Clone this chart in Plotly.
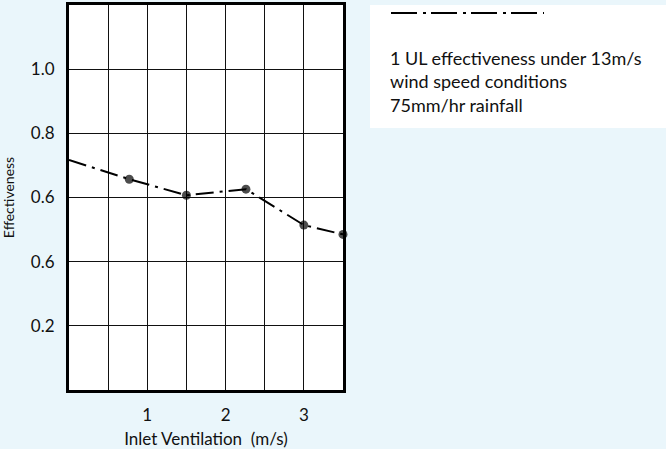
import plotly.graph_objects as go

# data
inlet_velocity = [0.0, 0.77, 1.5, 2.26, 3.0, 3.5]
effectiveness = [0.717, 0.657, 0.607, 0.626, 0.514, 0.485]
marker_sizes = [0, 9, 9, 9, 9, 9]

x_tick_vals = [1, 2, 3]
x_tick_text = ["1", "2", "3"]
y_tick_vals = [0.2, 0.4, 0.6, 0.8, 1.0]
y_tick_text = ["0.2", "0.6", "0.6", "0.8", "1.0"]

legend_lines = ["1 UL effectiveness under 13m/s", "wind speed conditions", "75mm/hr rainfall"]

FONT = "Gill Sans, Gill Sans MT, Lato, sans-serif"
BG = "#eaf6fb"
DASH = "18px,6px,3px,6px"

fig = go.Figure()
fig.add_trace(go.Scatter(
    x=inlet_velocity, y=effectiveness,
    mode="lines+markers",
    line=dict(color="black", width=2, dash=DASH),
    marker=dict(color="black", size=marker_sizes, line=dict(width=0)),
    showlegend=False, cliponaxis=False,
))

W, H = 666, 449
L, R, T, B = 69, 323, 5, 59
pw, ph = W - L - R, H - T - B

def px_x(p):
    return (p - L) / pw

def px_y(p):
    return (H - B - p) / ph

fig.add_shape(type="rect", xref="paper", yref="paper",
              x0=px_x(370), x1=px_x(670), y0=px_y(128), y1=px_y(5),
              fillcolor="white", line=dict(width=0), layer="below")
fig.add_shape(type="line", xref="paper", yref="paper",
              x0=px_x(391), x1=px_x(544), y0=px_y(13), y1=px_y(13),
              line=dict(color="black", width=2, dash="26px,6px,3px,5px"))
fig.add_annotation(xref="paper", yref="paper", x=px_x(388), y=px_y(45),
                   xanchor="left", yanchor="top", align="left", showarrow=False,
                   text="<br>".join(legend_lines),
                   font=dict(family=FONT, size=18, color="#111"))

fig.update_layout(
    width=W, height=H,
    margin=dict(l=L, r=R, t=T, b=B, autoexpand=False),
    paper_bgcolor=BG, plot_bgcolor="white",
    font=dict(family=FONT, size=16, color="#111"),
)
fig.update_xaxes(
    range=[0, 3.5], tickvals=x_tick_vals, ticktext=x_tick_text,
    showgrid=True, gridcolor="#111", gridwidth=1.4, zeroline=False,
    minor=dict(dtick=0.5, tick0=0, showgrid=True, gridcolor="#111", gridwidth=1.4),
    showline=True, linecolor="black", linewidth=3, mirror=True,
    ticks="", ticklabelstandoff=8, tickfont=dict(size=17),
    automargin=False,
    title=dict(text="Inlet Ventilation  (m/s)", font=dict(size=17), standoff=12),
)
fig.update_yaxes(
    range=[0, 1.2], tickvals=y_tick_vals, ticktext=y_tick_text,
    showgrid=True, gridcolor="#111", gridwidth=1.4, zeroline=False,
    showline=True, linecolor="black", linewidth=3, mirror=True,
    ticks="", ticklabelstandoff=8, tickfont=dict(size=17),
    automargin=False,
    title=dict(text="Effectiveness", font=dict(size=14), standoff=16),
)

fig.write_html(
    "out.html",
    config={"displayModeBar": False},
    post_script="document.body.style.margin='0';document.body.style.overflow='hidden';",
)
